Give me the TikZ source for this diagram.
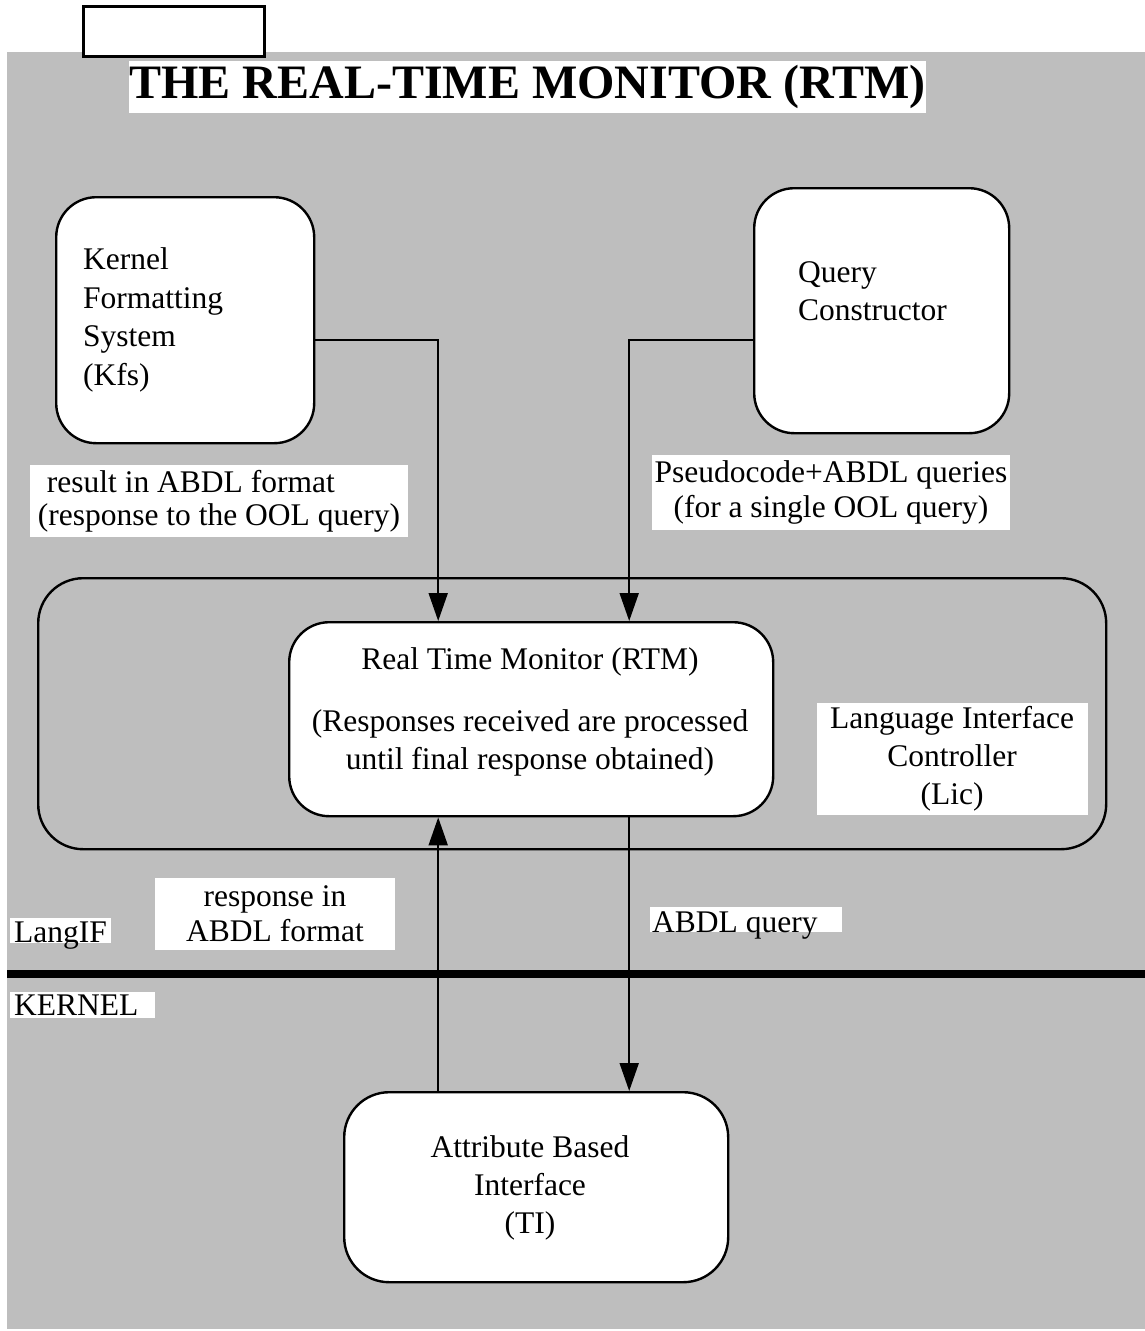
\documentclass[tikz,border=0pt]{standalone}
\usepackage{fontspec}
\setmainfont{Liberation Serif}
\usetikzlibrary{arrows.meta}
\definecolor{screen}{RGB}{190,190,190}
\begin{document}
\begin{tikzpicture}[x=1pt,y=-1pt,
  box/.style={draw, line width=2.4pt, fill=white, rounded corners=40pt,
    inner sep=0pt, anchor=north west},
  txt/.style={font=\fontsize{31.5pt}{38pt}\selectfont, inner sep=0pt},
  lbl/.style={txt, fill=white, align=center},
  flow/.style={line width=2pt, line join=miter,
    -{Triangle[length=28pt,width=19pt]}}]
\useasboundingbox (0,0) rectangle (1145,1331);

% shaded page area
\fill[screen] (7,52) rectangle (1145,1329);

% empty tab at the top
\node (tab) [draw, line width=2.5pt, fill=white, inner sep=0pt,
  minimum width=181pt, minimum height=50pt, anchor=north west] at (82,5) {};

% title
\node (title) [fill=white, inner sep=0pt, minimum width=791pt,
  minimum height=52pt, font=\bfseries\fontsize{48pt}{50pt}\selectfont]
  at (527.5,87) {THE REAL-TIME MONITOR (RTM)};

% language interface controller outline
\node (lic) [box, fill=none, rounded corners=45pt,
  minimum width=1068pt, minimum height=271pt] at (37,577) {};

% component boxes
\node (kfs) [box, minimum width=258pt, minimum height=246pt] at (55,196) {};
\node (kfstext) [txt, align=left, anchor=west,
  font=\fontsize{31.5pt}{38.5pt}\selectfont] at (83,320)
  {Kernel\\Formatting\\System\\(Kfs)};

\node (qc) [box, minimum width=255pt, minimum height=245pt] at (753,187) {};
\node (qctext) [txt, align=left, anchor=west] at (798,291)
  {Query\\Constructor};

\node (rtm) [box, minimum width=484pt, minimum height=194pt] at (288,621) {};
\node (rtmtext) [txt, align=center] at (530,712)
  {Real Time Monitor (RTM)\\[24pt](Responses received are processed\\until final response obtained)};

\node (ti) [box, rounded corners=45pt, minimum width=384pt,
  minimum height=190pt] at (343,1091) {};
\node (titext) [txt, align=center] at (530,1188)
  {Attribute Based\\Interface\\(TI)};

% labels on white patches
\node (liclabel) [lbl, minimum width=271pt, minimum height=112pt]
  at (952,759) {Language Interface\\Controller\\(Lic)};
\node (reslabel) [lbl, align=left, minimum width=378pt, minimum height=72pt,
  font=\fontsize{31.5pt}{33pt}\selectfont] at (219,501)
  {\hspace*{9pt}result in ABDL format\\(response to the OOL query)};
\node (pseulabel) [lbl, minimum width=358pt, minimum height=75pt,
  font=\fontsize{31.5pt}{35pt}\selectfont] at (831,492.5)
  {Pseudocode+ABDL queries\\(for a single OOL query)};
\node (resplabel) [lbl, minimum width=240pt, minimum height=72pt,
  font=\fontsize{31.5pt}{35pt}\selectfont] at (275,914)
  {response in\\ABDL format};
\node (langif) [txt, fill=white, anchor=base west, inner xsep=4pt,
  text height=24pt, text depth=1pt] at (10,942) {LangIF};
\node (kernel) [txt, fill=white, anchor=base west, inner xsep=4pt,
  text height=23pt, text depth=3pt]
  at (10,1015) {\makebox[137pt][l]{KERNEL}};
\node (abdlq) [txt, fill=white, anchor=base west, inner xsep=2pt,
  text height=25pt, text depth=0pt]
  at (650,932) {\makebox[188pt][l]{ABDL query}};

% divider between language interface and kernel
\coordinate (divL) at (7,974);
\coordinate (divR) at (1145,974);
\draw[line width=8pt] (divL) -- (divR);

% data flow
\draw[flow] ([yshift=-20pt]kfs.east) -| ([xshift=-93pt]rtm.north);
\draw[flow] ([yshift=-29pt]qc.west) -| ([xshift=98pt]rtm.north);
\draw[flow] ([xshift=-93pt]rtm.south |- ti.north) -- ([xshift=-93pt]rtm.south);
\draw[flow] ([xshift=98pt]rtm.south) -- ([xshift=98pt]rtm.south |- ti.north);
\end{tikzpicture}
\end{document}
